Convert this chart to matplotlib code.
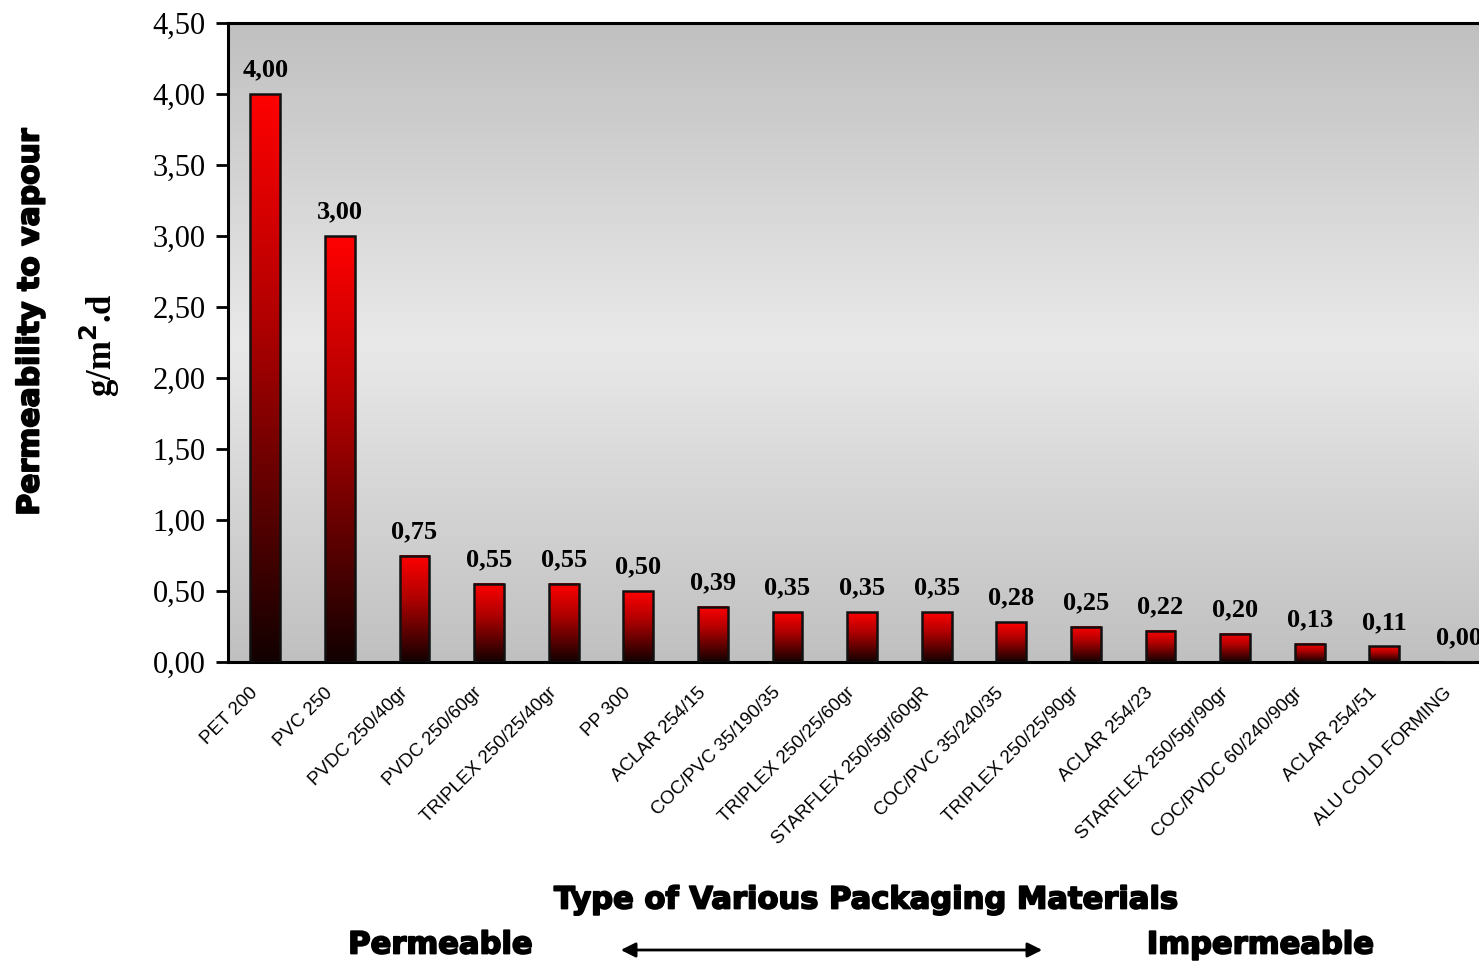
import numpy as np
import matplotlib
matplotlib.use("Agg")
import matplotlib.pyplot as plt
import matplotlib.patheffects as pe
from matplotlib.colors import LinearSegmentedColormap
from matplotlib.patches import FancyArrowPatch
from matplotlib.transforms import ScaledTranslation

materials = [
    "PET 200", "PVC 250", "PVDC 250/40gr", "PVDC 250/60gr", "TRIPLEX 250/25/40gr",
    "PP 300", "ACLAR 254/15", "COC/PVC 35/190/35", "TRIPLEX 250/25/60gr",
    "STARFLEX 250/5gr/60gR", "COC/PVC 35/240/35", "TRIPLEX 250/25/90gr",
    "ACLAR 254/23", "STARFLEX 250/5gr/90gr", "COC/PVDC 60/240/90gr",
    "ACLAR 254/51", "ALU COLD FORMING",
]
permeability = [4.00, 3.00, 0.75, 0.55, 0.55, 0.50, 0.39, 0.35, 0.35, 0.35,
                0.28, 0.25, 0.22, 0.20, 0.13, 0.11, 0.00]
yticks = [0.0, 0.5, 1.0, 1.5, 2.0, 2.5, 3.0, 3.5, 4.0, 4.5]

W, H = 1479, 963
fig = plt.figure(figsize=(W / 100, H / 100), dpi=100)
# axes run past the right edge of the picture, as in the original
ax = fig.add_axes([228 / W, 1 - 662 / H, 17 * 74.6 / W, 639 / H])

# background gradient: grey - light - grey
bg = LinearSegmentedColormap.from_list("bg", ["#c0c0c0", "#e9e9e9", "#c0c0c0"])
ax.imshow(np.linspace(0, 1, 256).reshape(-1, 1), cmap=bg, aspect="auto",
          extent=[0, 1, 0, 1], transform=ax.transAxes, zorder=0)

# bars with red-to-black gradient
barcm = LinearSegmentedColormap.from_list(
    "bar", [(0, "#120000"), (0.6, "#b00000"), (1, "#ff0000")])
grad = np.linspace(0, 1, 256).reshape(-1, 1)
width = 0.4
x = np.arange(len(materials))
for xi, v in zip(x, permeability):
    if v > 0:
        ax.imshow(grad, cmap=barcm, aspect="auto", origin="lower",
                  extent=[xi - width / 2, xi + width / 2, 0, v], zorder=2)
ax.bar(x, permeability, width=width, facecolor="none", edgecolor="#111111",
       linewidth=1.8, zorder=3)

for xi, v in zip(x, permeability):
    ax.annotate(f"{v:.2f}".replace(".", ","), (xi, v), xytext=(0, 9),
                textcoords="offset points", ha="center", va="bottom",
                family="Liberation Serif", fontweight="bold", fontsize=19)

ax.set_xlim(-0.5, 16.5)
ax.set_ylim(0, 4.5)
ax.set_yticks(yticks)
ax.set_yticklabels([f"{t:.2f}".replace(".", ",") for t in yticks],
                   family="Liberation Serif", fontsize=22)
ax.tick_params(axis="y", length=9, width=2, direction="out", pad=7)
ax.set_xticks(x)
ax.set_xticklabels(materials, rotation=45, ha="right", rotation_mode="anchor",
                   family="Liberation Sans", fontsize=13.5)
ax.tick_params(axis="x", length=0, pad=16)
shift = ScaledTranslation(-0.16, 0, fig.dpi_scale_trans)
for lbl in ax.get_xticklabels():
    lbl.set_transform(lbl.get_transform() + shift)
for s in ["left", "bottom", "top"]:
    ax.spines[s].set_linewidth(2.2)
ax.spines["right"].set_visible(False)

heavy = [pe.withStroke(linewidth=1.3, foreground="black")]
fig.text(30 / W, 1 - 322 / H, "Permeability to vapour", rotation=90,
         ha="center", va="center", fontsize=21.5, fontweight="heavy",
         family="DejaVu Sans", path_effects=heavy)
fig.text(100 / W, 1 - 345 / H, "g/m$^\\mathbf{2}$.d", rotation=90,
         ha="center", va="center", fontsize=25, fontweight="bold",
         family="Liberation Serif")

fig.text(865 / W, 1 - 900 / H, "Type of Various Packaging Materials",
         ha="center", va="center", fontsize=22, fontweight="heavy",
         family="DejaVu Sans", path_effects=heavy)
fig.text(440 / W, 1 - 945 / H, "Permeable", ha="center", va="center",
         fontsize=22, fontweight="heavy", family="DejaVu Sans", path_effects=heavy)
fig.text(1260 / W, 1 - 945 / H, "Impermeable", ha="center", va="center",
         fontsize=22, fontweight="heavy", family="DejaVu Sans", path_effects=heavy)
arrow = FancyArrowPatch((618 / W, 1 - 950 / H), (1045 / W, 1 - 950 / H),
                        transform=fig.transFigure, arrowstyle="<|-|>",
                        mutation_scale=22, color="black", linewidth=2)
fig.patches.append(arrow)

fig.savefig("out.png", dpi=100)
